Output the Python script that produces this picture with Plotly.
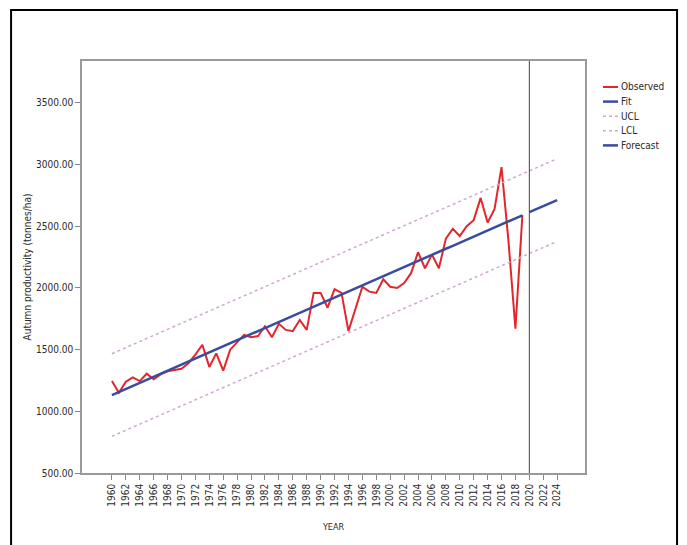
import plotly.graph_objects as go

# ---------------- data ----------------
years_obs = list(range(1960, 2020))
observed = [1245, 1150, 1240, 1275, 1245, 1305, 1260, 1300, 1325, 1335,
            1345, 1390, 1460, 1540, 1360, 1470, 1330, 1500, 1560, 1620,
            1600, 1610, 1690, 1600, 1710, 1660, 1650, 1740, 1660, 1960,
            1960, 1840, 1990, 1960, 1650, 1830, 2010, 1970, 1960, 2070,
            2010, 2000, 2040, 2120, 2290, 2160, 2270, 2160, 2400, 2480,
            2420, 2500, 2550, 2730, 2530, 2640, 2980, 2380, 1670, 2590]

fit = [1132, 1157, 1181, 1206, 1231, 1256, 1280, 1305, 1330, 1354,
       1379, 1404, 1428, 1453, 1478, 1503, 1527, 1552, 1577, 1601,
       1626, 1651, 1675, 1700, 1725, 1750, 1774, 1799, 1824, 1848,
       1873, 1898, 1922, 1947, 1972, 1997, 2021, 2046, 2071, 2095,
       2120, 2145, 2169, 2194, 2219, 2244, 2268, 2293, 2318, 2342,
       2367, 2392, 2416, 2441, 2466, 2491, 2515, 2540, 2565, 2589]

years_fc = [2020, 2021, 2022, 2023, 2024]
forecast = [2614, 2639, 2663, 2688, 2713]

years_all = list(range(1960, 2025))
ucl = [1467, 1492, 1516, 1541, 1566, 1591, 1615, 1640, 1665, 1689,
       1714, 1739, 1763, 1788, 1813, 1838, 1862, 1887, 1912, 1936,
       1961, 1986, 2010, 2035, 2060, 2085, 2109, 2134, 2159, 2183,
       2208, 2233, 2257, 2282, 2307, 2332, 2356, 2381, 2406, 2430,
       2455, 2480, 2504, 2529, 2554, 2579, 2603, 2628, 2653, 2677,
       2702, 2727, 2751, 2776, 2801, 2826, 2850, 2875, 2900, 2924,
       2949, 2974, 2998, 3023, 3048]
lcl = [797, 822, 846, 871, 896, 921, 945, 970, 995, 1019,
       1044, 1069, 1093, 1118, 1143, 1168, 1192, 1217, 1242, 1266,
       1291, 1316, 1340, 1365, 1390, 1415, 1439, 1464, 1489, 1513,
       1538, 1563, 1587, 1612, 1637, 1662, 1686, 1711, 1736, 1760,
       1785, 1810, 1834, 1859, 1884, 1909, 1933, 1958, 1983, 2007,
       2032, 2057, 2081, 2106, 2131, 2156, 2180, 2205, 2230, 2254,
       2279, 2304, 2328, 2353, 2378]

x_ticks = list(range(1960, 2025, 2))
y_ticks = [500, 1000, 1500, 2000, 2500, 3000, 3500]
legend_names = ["Observed", "Fit", "UCL", "LCL", "Forecast"]

assert len(observed) == len(years_obs) == len(fit)
assert len(ucl) == len(lcl) == len(years_all)

# ---------------- styling ----------------
FONT = "Liberation Sans Narrow, Arial Narrow, DejaVu Sans Condensed, sans-serif"
TXT = "#2a2a2a"
RED = "#e3262b"
BLUE = "#3a4c9c"
BAND = "#cfa9cf"
styles = {
    "Observed": dict(color=RED, width=2),
    "Fit": dict(color=BLUE, width=2.5),
    "UCL": dict(color=BAND, width=1.5, dash="dot"),
    "LCL": dict(color=BAND, width=1.5, dash="dot"),
    "Forecast": dict(color=BLUE, width=2.5),
}

fig = go.Figure()
fig.add_trace(go.Scatter(x=years_obs, y=observed, mode="lines", name="Observed",
                         line=styles["Observed"]))
fig.add_trace(go.Scatter(x=years_obs, y=fit, mode="lines", name="Fit",
                         line=styles["Fit"]))
fig.add_trace(go.Scatter(x=years_all, y=ucl, mode="lines", name="UCL",
                         line=styles["UCL"]))
fig.add_trace(go.Scatter(x=years_all, y=lcl, mode="lines", name="LCL",
                         line=styles["LCL"]))
fig.add_trace(go.Scatter(x=years_fc, y=forecast, mode="lines", name="Forecast",
                         line=styles["Forecast"]))

# vertical reference line at 2020
fig.add_shape(type="line", xref="x", yref="paper", x0=2020, x1=2020, y0=0, y1=1,
              line=dict(color="#444444", width=1))
# outer black frame
fig.add_shape(type="rect", xref="paper", yref="paper",
              x0=-0.141, x1=1.183, y0=-0.18, y1=1.124,
              line=dict(color="black", width=2), layer="below")

# compact legend (SPSS style): short line + label
PLOT_L, PLOT_W, PLOT_B, PLOT_H = 82, 503, 473, 412
def px_x(px):
    return (px - PLOT_L) / PLOT_W
def px_y(py):
    return (PLOT_B - py) / PLOT_H
for i, name in enumerate(legend_names):
    yy = px_y(87 + i * 14.6)
    fig.add_shape(type="line", xref="paper", yref="paper",
                  x0=px_x(603), x1=px_x(618), y0=yy, y1=yy,
                  line=styles[name])
    fig.add_annotation(xref="paper", yref="paper", x=px_x(619), y=yy,
                       xanchor="left", yanchor="middle", text=name, showarrow=False,
                       font=dict(family=FONT, size=10, color=TXT))

fig.update_layout(
    width=687, height=545,
    margin=dict(l=PLOT_L, r=102, t=61, b=72),
    paper_bgcolor="white", plot_bgcolor="white",
    font=dict(family=FONT, size=10, color=TXT),
    showlegend=False,
    xaxis=dict(range=[1955.7, 2028.0], tickmode="array", tickvals=x_ticks,
               ticktext=[str(v) for v in x_ticks], tickangle=-90,
               ticks="outside", ticklen=5, tickcolor="#888888",
               showgrid=False, zeroline=False,
               showline=True, linecolor="#9a9a9a", linewidth=1.5, mirror=True,
               tickfont=dict(size=10, color=TXT),
               title=dict(text="YEAR", font=dict(size=9, color=TXT), standoff=18)),
    yaxis=dict(range=[500, 3840], tickmode="array", tickvals=y_ticks,
               ticktext=[f"{v:.2f}" for v in y_ticks],
               ticks="outside", ticklen=5, tickcolor="#888888",
               showgrid=False, zeroline=False,
               showline=True, linecolor="#9a9a9a", linewidth=1.5, mirror=True,
               tickfont=dict(size=10, color=TXT),
               title=dict(text="Autumn productivity (tonnes/ha)",
                          font=dict(size=10, color=TXT), standoff=3)),
)

fig.write_html("out.html")
